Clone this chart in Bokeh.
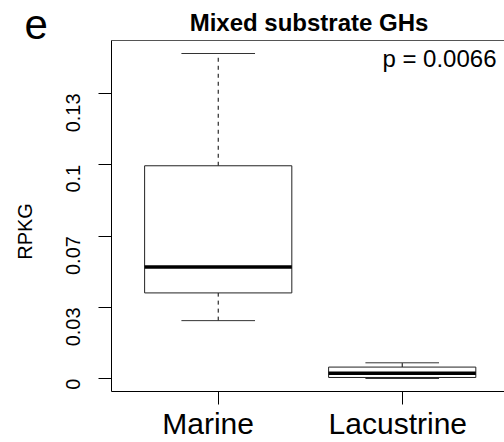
import math
from bokeh.plotting import figure
from bokeh.models import Range1d, FixedTicker, LinearAxis, Label, ColumnDataSource
from bokeh.embed import file_html
from bokeh.resources import INLINE

# ---- data ----
groups = ["Marine", "Lacustrine"]
positions = [1, 2]
lower_whisker = [0.0285, 0.0001]
q1 = [0.0421, 0.0006]
median = [0.0548, 0.0027]
q3 = [0.1045, 0.0057]
upper_whisker = [0.1596, 0.0078]
y_ticks = [0, 0.035, 0.07, 0.105, 0.14]
y_tick_labels = ["0", "0.03", "0.07", "0.1", "0.13"]
title_text = "Mixed substrate GHs"
panel_letter = "e"
p_text = "p = 0.0066"
y_label = "RPKG"

# layout constants
box_w = 0.8
cap_w = 0.4
label_nudge = [-0.055, -0.024]   # category labels sit slightly left of their ticks

# ---- ranges (R-style 4% extension) ----
lo, hi = min(lower_whisker), max(upper_whisker)
span = hi - lo
y_start, y_end = lo - 0.04 * span, hi + 0.04 * span
x_start = 0.42
x_end = x_start + 393 / 184

W, H = 504, 442
FL, FT, FB = 111, 40, 393  # frame edges in px


def x_at(px):
    return x_start + (px - FL) * (x_end - x_start) / (W - FL)


def y_at(py):
    return y_end - (py - FT) * (y_end - y_start) / (FB - FT)


p = figure(width=W, height=H, output_backend="svg", toolbar_location=None,
           x_range=Range1d(x_start, x_end), y_range=Range1d(y_start, y_end),
           x_axis_type=None, y_axis_type=None,
           min_border_left=FL, min_border_right=0, min_border_top=FT, min_border_bottom=H - FB,
           outline_line_color=None, background_fill_color="white", border_fill_color="white")

FONT = "Liberation Sans"

yaxis = LinearAxis(ticker=FixedTicker(ticks=y_ticks),
                   major_label_overrides=dict(zip(y_ticks, y_tick_labels)),
                   major_tick_out=13, major_tick_in=0, minor_tick_line_color=None,
                   major_label_orientation=math.pi / 2,
                   major_label_text_font=FONT, major_label_text_font_size="20px",
                   major_label_text_color="black", major_label_standoff=25,
                   axis_line_color="black", major_tick_line_color="black")
p.add_layout(yaxis, "left")

# bottom axis: tick marks at the boxes (minor ticks), names slightly left (major labels)
label_pos = [x + d for x, d in zip(positions, label_nudge)]
xaxis = LinearAxis(ticker=FixedTicker(ticks=label_pos, minor_ticks=positions),
                   major_label_overrides=dict(zip(label_pos, groups)),
                   major_tick_out=0, major_tick_in=0, major_tick_line_color=None,
                   minor_tick_out=13, minor_tick_in=0, minor_tick_line_color="black",
                   major_label_text_font=FONT, major_label_text_font_size="30px",
                   major_label_text_color="black", major_label_standoff=2,
                   axis_line_color="black")
p.add_layout(xaxis, "below")

top_axis = LinearAxis(ticker=FixedTicker(ticks=[]), axis_line_color="#555555",
                      major_tick_line_color=None, minor_tick_line_color=None,
                      major_tick_out=0, major_tick_in=0, minor_tick_out=0, minor_tick_in=0,
                      major_label_standoff=0, axis_label_standoff=0,
                      major_label_text_font_size="0px")
p.add_layout(top_axis, "above")

src = ColumnDataSource(dict(
    x=positions, lower=lower_whisker, q1=q1, med=median, q3=q3, upper=upper_whisker,
    cl=[x - cap_w / 2 for x in positions], cr=[x + cap_w / 2 for x in positions],
    bl=[x - box_w / 2 for x in positions], br=[x + box_w / 2 for x in positions],
))

p.segment(x0="x", y0="q3", x1="x", y1="upper", source=src, line_color="black",
          line_width=1, line_dash="4 4")
p.segment(x0="x", y0="lower", x1="x", y1="q1", source=src, line_color="black",
          line_width=1, line_dash="4 4")
p.segment(x0="cl", y0="upper", x1="cr", y1="upper", source=src, line_color="#333333", line_width=1)
p.segment(x0="cl", y0="lower", x1="cr", y1="lower", source=src, line_color="#333333", line_width=1)
p.vbar(x="x", width=box_w, bottom="q1", top="q3", source=src, fill_color="white",
       line_color="#222222", line_width=1)
p.segment(x0="bl", y0="med", x1="br", y1="med", source=src, line_color="black", line_width=3.5)

# ---- annotations ----
p.add_layout(Label(x=x_at(308.5), y=y_at(22.4), text=title_text, text_font=FONT,
                   text_font_size="24px", text_font_style="bold", text_align="center",
                   text_baseline="middle", text_color="black"), "above")
p.add_layout(Label(x=x_at(24), y=y_at(24), text=panel_letter, text_font=FONT,
                   text_font_size="42px", text_align="left",
                   text_baseline="middle", text_color="black"), "left")
p.add_layout(Label(x=x_at(496), y=y_at(58), text=p_text, text_font=FONT,
                   text_font_size="24px", text_align="right",
                   text_baseline="middle", text_color="black"))
p.add_layout(Label(x=x_at(24.2), y=y_at(232), text=y_label, text_font=FONT,
                   text_font_size="20px", text_align="center", angle=math.pi / 2,
                   text_baseline="middle", text_color="black"), "left")

open("out.html", "w").write(file_html(p, INLINE))
